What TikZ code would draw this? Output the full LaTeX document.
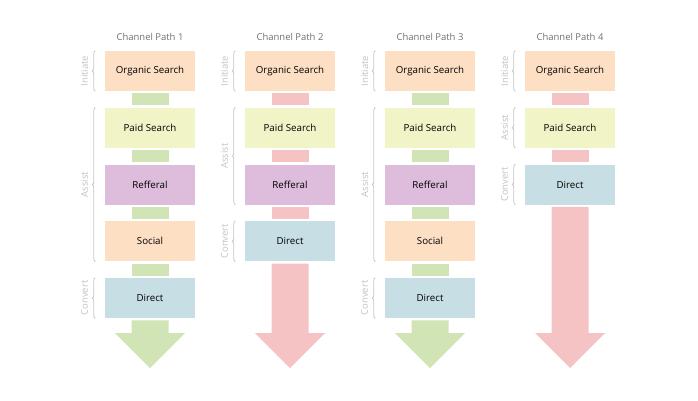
\documentclass[tikz,border=0pt]{standalone}
\usepackage{fontspec}
\setmainfont{Open Sans}
\usetikzlibrary{positioning,decorations.pathreplacing}

\definecolor{peach}{HTML}{FDDFC4}
\definecolor{lime}{HTML}{F0F4C7}
\definecolor{lilac}{HTML}{DEBDDC}
\definecolor{sky}{HTML}{C7DEE5}
\definecolor{linkgreen}{HTML}{D0E4B5}
\definecolor{linkpink}{HTML}{F5C3C3}

% arrow at the end of a path: from box #1 down to tip #2
\newcommand{\chanarrow}[3]{\fill[#3] ([shift={(-18.5,2)}]#1.south) -- ([shift={(18.5,2)}]#1.south) -- ([shift={(18.5,-35)}]#2) -- ([shift={(35,-35)}]#2) -- (#2) -- ([shift={(-35,-35)}]#2) -- ([shift={(-18.5,-35)}]#2) -- cycle;}
% brace with phase name, from box #1 (top) to box #2 (bottom)
\newcommand{\phase}[3]{\draw[brace] ([shift={(-9.5,0)}]#2.south west) -- ([shift={(-9.5,0)}]#1.north west) node[phaselabel,midway]{#3};}

\begin{document}
\begin{tikzpicture}[x=0.75pt,y=-0.75pt,
  box/.style={minimum width=67.5pt,minimum height=30pt,inner sep=0pt,font=\fontsize{7.3}{9}\selectfont,text=black},
  title/.style={font=\fontsize{7.1}{9}\selectfont,text=black!56},
  phaselabel/.style={xshift=-8pt,rotate=90,font=\fontsize{7.1}{9}\selectfont,text=black!24},
  brace/.style={draw=black!22,line width=0.6pt,decorate,decoration={brace,amplitude=2.2pt,aspect=0.5}},
  linkG/.style={draw=linkgreen,line width=27.75pt,shorten <=1.5pt,shorten >=1.5pt},
  linkR/.style={draw=linkpink,line width=27.75pt,shorten <=1.5pt,shorten >=1.5pt}]
\useasboundingbox (0,0) rectangle (698,400);

\node[title] (h1) at (150,37) {Channel Path 1};
\node[title] (h2) at (290,37) {Channel Path 2};
\node[title] (h3) at (430,37) {Channel Path 3};
\node[title] (h4) at (570,37) {Channel Path 4};

% path 1
\node[box,fill=peach] (o1) at (150,71) {Organic Search};
\node[box,fill=lime] (p1) at (150,127.75) {Paid Search};
\node[box,fill=lilac] (r1) at (150,184.5) {Refferal};
\node[box,fill=peach] (s1) at (150,241.25) {Social};
\node[box,fill=sky] (d1) at (150,298) {Direct};
\coordinate (e1) at (150,368);
\draw[linkG] (o1.south) -- (p1.north);
\draw[linkG] (p1.south) -- (r1.north);
\draw[linkG] (r1.south) -- (s1.north);
\draw[linkG] (s1.south) -- (d1.north);
\chanarrow{d1}{e1}{linkgreen}
\phase{o1}{o1}{Initiate}
\phase{p1}{s1}{Assist}
\phase{d1}{d1}{Convert}

% path 2
\node[box,fill=peach] (o2) at (290,71) {Organic Search};
\node[box,fill=lime] (p2) at (290,127.75) {Paid Search};
\node[box,fill=lilac] (r2) at (290,184.5) {Refferal};
\node[box,fill=sky] (d2) at (290,241.25) {Direct};
\coordinate (e2) at (290,368);
\draw[linkR] (o2.south) -- (p2.north);
\draw[linkR] (p2.south) -- (r2.north);
\draw[linkR] (r2.south) -- (d2.north);
\chanarrow{d2}{e2}{linkpink}
\phase{o2}{o2}{Initiate}
\phase{p2}{r2}{Assist}
\phase{d2}{d2}{Convert}

% path 3
\node[box,fill=peach] (o3) at (430,71) {Organic Search};
\node[box,fill=lime] (p3) at (430,127.75) {Paid Search};
\node[box,fill=lilac] (r3) at (430,184.5) {Refferal};
\node[box,fill=peach] (s3) at (430,241.25) {Social};
\node[box,fill=sky] (d3) at (430,298) {Direct};
\coordinate (e3) at (430,368);
\draw[linkG] (o3.south) -- (p3.north);
\draw[linkG] (p3.south) -- (r3.north);
\draw[linkG] (r3.south) -- (s3.north);
\draw[linkG] (s3.south) -- (d3.north);
\chanarrow{d3}{e3}{linkgreen}
\phase{o3}{o3}{Initiate}
\phase{p3}{s3}{Assist}
\phase{d3}{d3}{Convert}

% path 4
\node[box,fill=peach] (o4) at (570,71) {Organic Search};
\node[box,fill=lime] (p4) at (570,127.75) {Paid Search};
\node[box,fill=sky] (d4) at (570,184.5) {Direct};
\coordinate (e4) at (570,368);
\draw[linkR] (o4.south) -- (p4.north);
\draw[linkR] (p4.south) -- (d4.north);
\chanarrow{d4}{e4}{linkpink}
\phase{o4}{o4}{Initiate}
\phase{p4}{p4}{Assist}
\phase{d4}{d4}{Convert}

\end{tikzpicture}
\end{document}
